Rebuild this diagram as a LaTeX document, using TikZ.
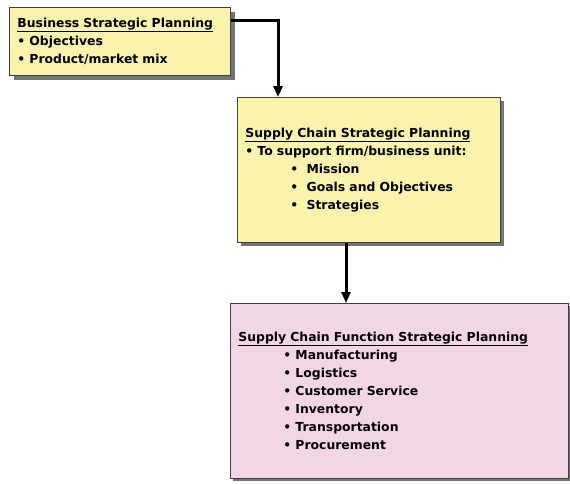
\documentclass[tikz,border=0pt]{standalone}
\usepackage{fontspec}
\setmainfont{DejaVu Sans}
\usetikzlibrary{shadows,arrows.meta}
\definecolor{plyellow}{RGB}{250,243,172}
\definecolor{plpink}{RGB}{243,214,230}
\tikzset{
  planbox/.style={draw=black!75, line width=0.8pt, anchor=north west,
    align=left, inner xsep=8pt, inner ysep=0pt,
    font=\bfseries\fontsize{12.4}{18}\selectfont},
  flow/.style={line width=3pt, -{Triangle[length=11pt,width=9pt]}}
}
\newcommand{\bul}{\textbullet\ }
\begin{document}
\begin{tikzpicture}[x=1pt,y=1pt]
    \useasboundingbox (0,0) rectangle (570,-483);
    % business level
    \node[planbox, fill=plyellow, text width=205pt, minimum height=68pt,
        drop shadow={shadow xshift=5pt, shadow yshift=-5pt, fill=black!55, opacity=1}]
        (bsp) at (9,-7) {\underline{Business Strategic Planning}\\
        \bul Objectives\\
        \bul Product/market mix};
    % supply chain level
    \node[planbox, fill=plyellow, text width=247pt, minimum height=145pt,
        drop shadow={shadow xshift=4pt, shadow yshift=-4pt, fill=black!55, opacity=1}]
        (scsp) at (237,-97) {\underline{Supply Chain Strategic Planning}\\
        \bul To support firm/business unit:\\
        \hspace*{45pt}\bul\ Mission\\
        \hspace*{45pt}\bul\ Goals and Objectives\\
        \hspace*{45pt}\bul\ Strategies};
    % function level
    \node[planbox, fill=plpink, text width=322pt, minimum height=175pt,
        drop shadow={shadow xshift=3pt, shadow yshift=-3pt, fill=black!55, opacity=1}]
        (scfsp) at (230,-303) {\underline{Supply Chain Function Strategic Planning}\\
        \hspace*{45pt}\bul Manufacturing\\
        \hspace*{45pt}\bul Logistics\\
        \hspace*{45pt}\bul Customer Service\\
        \hspace*{45pt}\bul Inventory\\
        \hspace*{45pt}\bul Transportation\\
        \hspace*{45pt}\bul Procurement};
    % arrows
    \draw[flow] ([yshift=-13pt]bsp.north east) -| ([xshift=41pt]scsp.north west);
    \draw[flow] ([xshift=109pt]scsp.south west) -- ([xshift=116pt]scfsp.north west);
\end{tikzpicture}
\end{document}
